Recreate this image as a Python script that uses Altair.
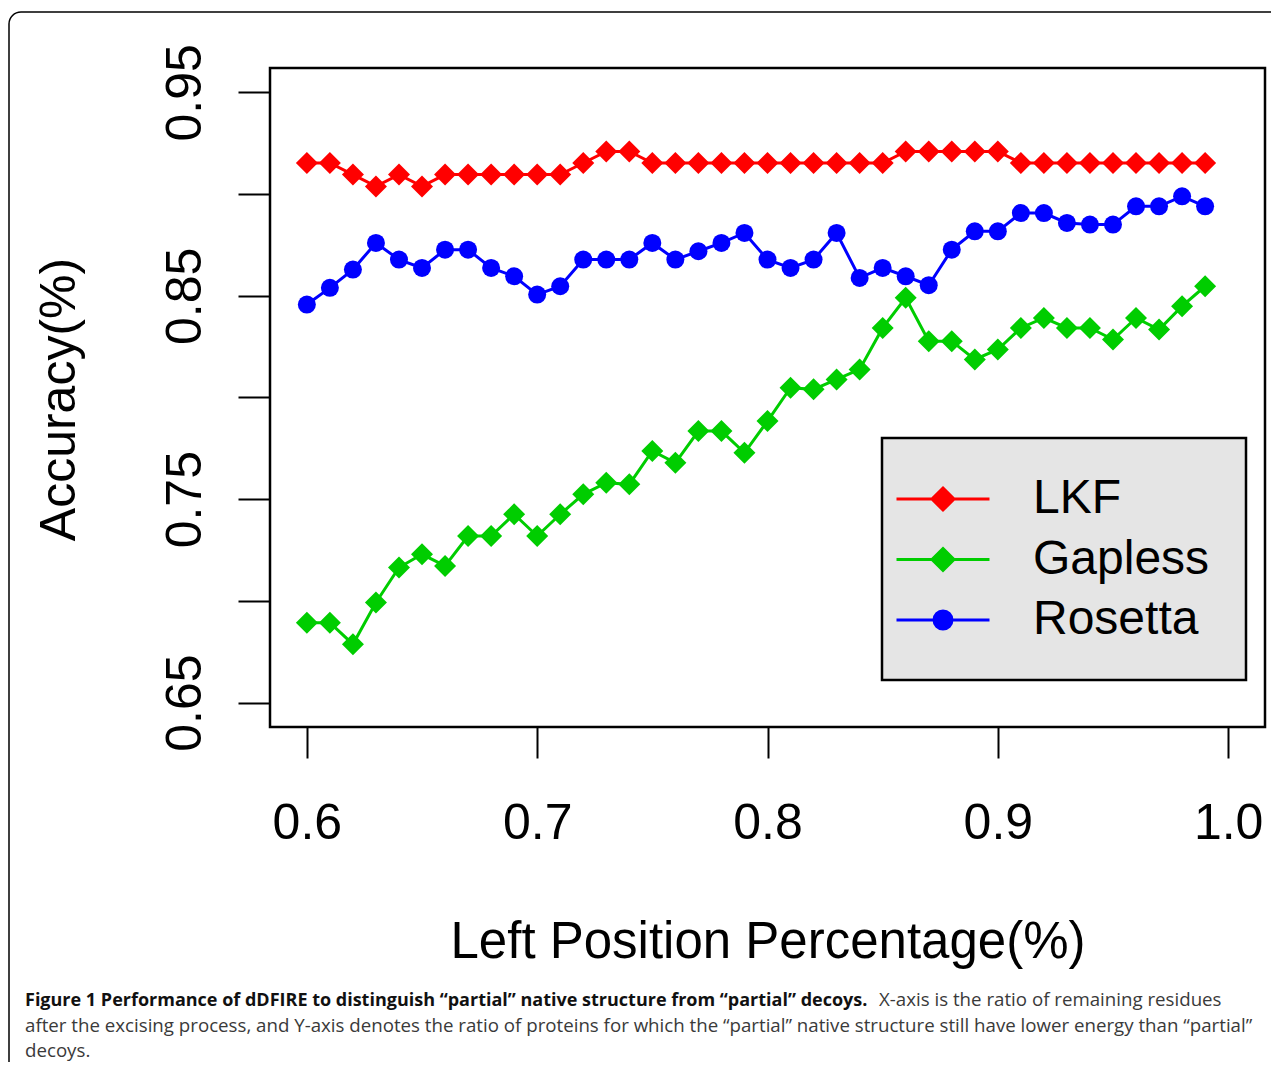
import altair as alt
import pandas as pd

x_vals = [0.60, 0.61, 0.62, 0.63, 0.64, 0.65, 0.66, 0.67, 0.68, 0.69,
          0.70, 0.71, 0.72, 0.73, 0.74, 0.75, 0.76, 0.77, 0.78, 0.79,
          0.80, 0.81, 0.82, 0.83, 0.84, 0.85, 0.86, 0.87, 0.88, 0.89,
          0.90, 0.91, 0.92, 0.93, 0.94, 0.95, 0.96, 0.97, 0.98, 0.99]

lkf = [0.9153, 0.9153, 0.9096, 0.9038, 0.9096, 0.9038, 0.9096, 0.9096, 0.9096, 0.9096,
       0.9096, 0.9096, 0.9153, 0.9210, 0.9210, 0.9153, 0.9153, 0.9153, 0.9153, 0.9153,
       0.9153, 0.9153, 0.9153, 0.9153, 0.9153, 0.9153, 0.9210, 0.9210, 0.9210, 0.9210,
       0.9210, 0.9153, 0.9153, 0.9153, 0.9153, 0.9153, 0.9153, 0.9153, 0.9153, 0.9153]

gapless = [0.6893, 0.6893, 0.6787, 0.6992, 0.7164, 0.7229, 0.7172, 0.7319, 0.7319, 0.7426,
           0.7319, 0.7426, 0.7524, 0.7581, 0.7573, 0.7737, 0.7679, 0.7835, 0.7835, 0.7728,
           0.7884, 0.8048, 0.8040, 0.8089, 0.8138, 0.8342, 0.8490, 0.8277, 0.8277, 0.8187,
           0.8236, 0.8342, 0.8391, 0.8342, 0.8342, 0.8285, 0.8391, 0.8334, 0.8449, 0.8547]

rosetta = [0.8457, 0.8539, 0.8629, 0.8760, 0.8678, 0.8637, 0.8727, 0.8727, 0.8637, 0.8596,
           0.8506, 0.8547, 0.8678, 0.8678, 0.8678, 0.8760, 0.8678, 0.8719, 0.8760, 0.8809,
           0.8678, 0.8637, 0.8678, 0.8809, 0.8588, 0.8637, 0.8596, 0.8552, 0.8727, 0.8817,
           0.8817, 0.8907, 0.8907, 0.8858, 0.8850, 0.8850, 0.8940, 0.8940, 0.8989, 0.8940]

series_names = ["LKF", "Gapless", "Rosetta"]
series_colors = ["#FF0000", "#00CD00", "#0000FF"]
series_shapes = ["diamond", "diamond", "circle"]
series_sizes = [484, 484, 324]
x_ticks = [0.6, 0.7, 0.8, 0.9, 1.0]
y_ticks = [0.65, 0.70, 0.75, 0.80, 0.85, 0.90, 0.95]
x_title = "Left Position Percentage(%)"
y_title = "Accuracy(%)"
caption_bold = "Figure 1 Performance of dDFIRE to distinguish \u201cpartial\u201d native structure from \u201cpartial\u201d decoys."
caption_rest = "X-axis is the ratio of remaining residues"
caption_line2 = ("after the excising process, and Y-axis denotes the ratio of proteins for which the "
                 "\u201cpartial\u201d native structure still have lower energy than \u201cpartial\u201d")
caption_line3 = "decoys."

rows = []
for name, vals in zip(series_names, [lkf, gapless, rosetta]):
    for xv, yv in zip(x_vals, vals):
        rows.append({"series": name, "x": xv, "y": yv})
df = pd.DataFrame(rows)

FONT = "Liberation Sans"
color_scale = alt.Scale(domain=series_names, range=series_colors)
xs = alt.Scale(domain=[0.584, 1.016], nice=False, zero=False)
ys = alt.Scale(domain=[0.638, 0.962], nice=False, zero=False)

LINE = "M-2,0H2"
DIAMOND = "M0,-0.473L0.473,0L0,0.473L-0.473,0Z"
CIRCLE = "M-0.387,0A0.387,0.387 0 1,0 0.387,0A0.387,0.387 0 1,0 -0.387,0Z"
shape_scale = alt.Scale(domain=series_names,
                        range=[LINE + DIAMOND, LINE + DIAMOND, LINE + CIRCLE])

legend = alt.Legend(
    title=None, orient="none", legendX=612, legendY=370,
    fillColor="#e5e5e5", strokeColor="black", padding=36,
    symbolSize=2162, symbolStrokeWidth=3, rowPadding=11.5, symbolOpacity=1,
    labelFont=FONT, labelFontSize=48, labelColor="black",
    labelOffset=65, labelLimit=400,
)

x_enc = alt.X("x:Q", scale=xs, axis=alt.Axis(
    values=x_ticks, format=".1f", title=x_title, tickSize=31, labelPadding=40,
    labelBaseline="top", labelFontSize=50, titleFontSize=51, titleX=497.5, titleY=230,
    titleAlign="center", titleBaseline="alphabetic", titleFontWeight="normal",
    domain=False, grid=False, labelFlush=False, labelOverlap=False))

y_enc = alt.Y("y:Q", scale=ys, axis=alt.Axis(
    values=y_ticks,
    labelExpr="(round(datum.value*100) % 10 == 5) ? format(datum.value, '.2f') : ''",
    tickSize=32, labelAngle=270, labelAlign="center", labelBaseline="alphabetic",
    labelPadding=38, labelFontSize=50, title=y_title, titleAngle=270,
    titleX=-195.5, titleY=331, titleAlign="center", titleBaseline="alphabetic",
    titleFontSize=50, titleFontWeight="normal", domain=False, grid=False,
    labelFlush=False, labelOverlap=False))

base = alt.Chart(df)

series_layers = []
for name, col, shp, sz in zip(series_names, series_colors, series_shapes, series_sizes):
    sub = base.transform_filter(alt.datum.series == name)
    series_layers.append(sub.mark_line(strokeWidth=3, color=col).encode(x=x_enc, y=y_enc))
    series_layers.append(sub.mark_point(filled=True, shape=shp, size=sz, color=col,
                                        opacity=1).encode(x=x_enc, y=y_enc))

legend_layer = base.transform_filter("false").mark_point(strokeWidth=3, opacity=1).encode(
    x=x_enc, y=y_enc,
    fill=alt.Fill("series:N", scale=color_scale, legend=legend),
    stroke=alt.Stroke("series:N", scale=color_scale, legend=legend),
    shape=alt.Shape("series:N", scale=shape_scale, legend=legend))

border = alt.Chart(pd.DataFrame({"a": [0]})).mark_rect(
    fill="transparent", stroke="black", strokeWidth=1.5, cornerRadius=12).encode(
    x=alt.value(-261), x2=alt.value(1040), y=alt.value(-56), y2=alt.value(1040))

cap1 = alt.Chart(pd.DataFrame({"t": [caption_bold]})).mark_text(
    align="left", baseline="alphabetic", font="Open Sans", fontSize=18,
    fontWeight="bold", color="#111111").encode(
    text="t:N", x=alt.value(-245), y=alt.value(938))

cap1b = alt.Chart(pd.DataFrame({"t": [caption_rest]})).mark_text(
    align="left", baseline="alphabetic", font="Open Sans", fontSize=18.7,
    color="#3a3a3a").encode(
    text="t:N", x=alt.value(609), y=alt.value(938))

cap2 = alt.Chart(pd.DataFrame({"t": [caption_line2]})).mark_text(
    align="left", baseline="alphabetic", font="Open Sans", fontSize=18.7,
    color="#3a3a3a").encode(
    text="t:N", x=alt.value(-245), y=alt.value(964))

cap3 = alt.Chart(pd.DataFrame({"t": [caption_line3]})).mark_text(
    align="left", baseline="alphabetic", font="Open Sans", fontSize=18.7,
    color="#3a3a3a").encode(
    text="t:N", x=alt.value(-245), y=alt.value(989))

chart = alt.layer(border, *series_layers, legend_layer, cap1, cap1b, cap2, cap3).properties(
    width=995, height=659,
    autosize=alt.AutoSizeParams(type="none"),
    padding={"left": 262, "top": 60, "right": 6, "bottom": 335},
    background="white",
).configure_view(
    stroke="black", strokeWidth=2.5
).configure_axis(
    labelFont=FONT, titleFont=FONT, labelColor="black", titleColor="black",
    tickColor="black", tickWidth=2
).configure_legend(
    strokeWidth=2.5
)

chart.save("out.html", embed_options={"renderer": "svg", "actions": False})
